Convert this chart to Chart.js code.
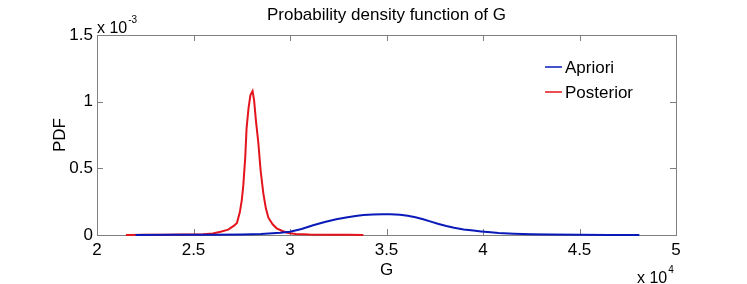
<!DOCTYPE html>
<html>
<head>
<meta charset="utf-8">
<script src="https://cdn.jsdelivr.net/npm/chart.js@4/dist/chart.umd.min.js"></script>
<style>
  html, body { margin: 0; padding: 0; background: #fff; }
  #wrap { width: 747px; height: 284px; }
</style>
</head>
<body>
<div id="wrap"><canvas id="grafico"></canvas></div>
<script>
// G values and pdf (in units of 1e-3)
var gPost = [21500, 22500, 23500, 24500, 25500, 26000, 26400, 26800, 27100, 27250, 27400, 27500,
  27580, 27680, 27750, 27850, 27950, 28060, 28140, 28240, 28360, 28480, 28620, 28750, 28880,
  29100, 29310, 29600, 29910, 30300, 31000, 32000, 33000, 33800];
var pdfPost = [0.000, 0.001, 0.002, 0.003, 0.006, 0.012, 0.025, 0.040, 0.070, 0.090, 0.170, 0.260,
  0.370, 0.580, 0.800, 0.950, 1.050, 1.080, 1.010, 0.850, 0.690, 0.480, 0.310, 0.200, 0.130,
  0.080, 0.050, 0.030, 0.015, 0.008, 0.004, 0.002, 0.001, 0.000];

var gPrior = [22000, 24000, 26000, 27500, 28500, 29500, 30000, 30600, 31200, 31800, 32400, 32900,
  33400, 33800, 34300, 34800, 35200, 35700, 36100, 36500, 36900, 37300, 37700, 38100, 38500,
  39000, 39500, 39900, 40400, 40800, 41600, 42500, 43500, 45000, 46500, 48100];
var pdfPrior = [0.000, 0.001, 0.002, 0.004, 0.008, 0.016, 0.025, 0.045, 0.073, 0.098, 0.118, 0.131,
  0.142, 0.150, 0.154, 0.156, 0.156, 0.152, 0.144, 0.133, 0.118, 0.100, 0.083, 0.067, 0.054,
  0.042, 0.033, 0.027, 0.020, 0.015, 0.009, 0.005, 0.003, 0.0015, 0.0008, 0.0003];

var xTicks = [20000, 25000, 30000, 35000, 40000, 45000, 50000];
var yTicks = [0, 0.5, 1, 1.5];

var titulo = 'Probability density function of G';
var fuente = '"Liberation Sans", Arial, sans-serif';

function puntos(xs, ys) {
  var out = [];
  for (var i in xs) out.push({x: xs[i], y: ys[i]});
  return out;
}

var marco = {
  id: 'marco',
  beforeDatasetsDraw: function(chart) {
    var ctx = chart.ctx, a = chart.chartArea;
    var sx = chart.scales.x, sy = chart.scales.y;
    ctx.save();
    ctx.strokeStyle = '#808080';
    ctx.lineWidth = 1;
    ctx.strokeRect(Math.round(a.left) + 0.5, Math.round(a.top) + 0.5,
      Math.round(a.right - a.left), Math.round(a.bottom - a.top));
    ctx.beginPath();
    xTicks.forEach(function(v) {
      var px = Math.round(sx.getPixelForValue(v)) + 0.5;
      ctx.moveTo(px, a.bottom); ctx.lineTo(px, a.bottom - 6);
      ctx.moveTo(px, a.top); ctx.lineTo(px, a.top + 6);
    });
    yTicks.forEach(function(v) {
      var py = Math.round(sy.getPixelForValue(v)) + 0.5;
      ctx.moveTo(a.left, py); ctx.lineTo(a.left + 6, py);
      ctx.moveTo(a.right, py); ctx.lineTo(a.right - 6, py);
    });
    ctx.stroke();
    ctx.restore();
  },
  afterDraw: function(chart) {
    var ctx = chart.ctx, a = chart.chartArea;
    ctx.save();
    ctx.fillStyle = '#000';
    ctx.textBaseline = 'alphabetic';
    ctx.font = '17px ' + fuente;
    ctx.textAlign = 'center';
    ctx.fillText(titulo, (a.left + a.right) / 2, 20);
    ctx.fillText('G', (a.left + a.right) / 2, 275);

    // exponents
    ctx.textAlign = 'left';
    ctx.font = '16px ' + fuente;
    ctx.fillText('x 10', a.left, 33);
    var w = ctx.measureText('x 10').width;
    ctx.font = '10px ' + fuente;
    ctx.fillText('-3', a.left + w + 1, 23);
    ctx.font = '16px ' + fuente;
    ctx.fillText('x 10', 637, 283);
    w = ctx.measureText('x 10').width;
    ctx.font = '10px ' + fuente;
    ctx.fillText('4', 637 + w + 1, 273);

    // y label
    ctx.save();
    ctx.translate(65, (a.top + a.bottom) / 2);
    ctx.rotate(-Math.PI / 2);
    ctx.font = '17px ' + fuente;
    ctx.textAlign = 'center';
    ctx.fillText('PDF', 0, 0);
    ctx.restore();

    // legend
    ctx.font = '17px ' + fuente;
    ctx.textAlign = 'left';
    ctx.textBaseline = 'middle';
    chart.data.datasets.forEach(function(ds, i) {
      var y = 67 + i * 25;
      ctx.strokeStyle = ds.borderColor;
      ctx.lineWidth = 1.5;
      ctx.beginPath();
      ctx.moveTo(545, y); ctx.lineTo(562, y);
      ctx.stroke();
      ctx.fillText(ds.label, 565, y + 1);
    });
    ctx.restore();
  }
};

var chartdata = {
  datasets: [
    {
      label: 'Apriori',
      borderColor: '#0a1ab8',
      borderWidth: 2,
      fill: false,
      pointRadius: 0,
      tension: 0,
      clip: 4,
      data: puntos(gPrior, pdfPrior)
    },
    {
      label: 'Posterior',
      borderColor: '#e3141c',
      borderWidth: 2,
      fill: false,
      pointRadius: 0,
      tension: 0,
      clip: 4,
      data: puntos(gPost, pdfPost)
    }
  ]
};

Chart.defaults.font.family = fuente;
Chart.defaults.color = '#000';

var line = new Chart(document.getElementById('grafico'), {
  type: 'line',
  data: chartdata,
  plugins: [marco],
  options: {
    responsive: true,
    maintainAspectRatio: false,
    animation: false,
    layout: { padding: { top: 35, right: 71, left: 0, bottom: 0 } },
    plugins: { legend: { display: false }, title: { display: false }, tooltip: { enabled: false } },
    scales: {
      x: {
        type: 'linear',
        min: 20000,
        max: 50000,
        afterFit: function(s) { s.height = 49; },
        afterBuildTicks: function(s) { s.ticks = xTicks.map(function(v) { return {value: v}; }); },
        grid: { display: false, drawTicks: false },
        border: { display: false },
        ticks: {
          padding: 5,
          maxRotation: 0,
          autoSkip: false,
          font: { size: 17 },
          callback: function(v) { return String(v / 10000); }
        }
      },
      y: {
        min: 0,
        max: 1.5,
        afterFit: function(s) { s.width = 97; },
        afterBuildTicks: function(s) { s.ticks = yTicks.map(function(v) { return {value: v}; }); },
        grid: { display: false, drawTicks: false },
        border: { display: false },
        ticks: {
          padding: 4,
          autoSkip: false,
          font: { size: 17 },
          callback: function(v) { return String(v); }
        }
      }
    }
  }
});
</script>
</body>
</html>
